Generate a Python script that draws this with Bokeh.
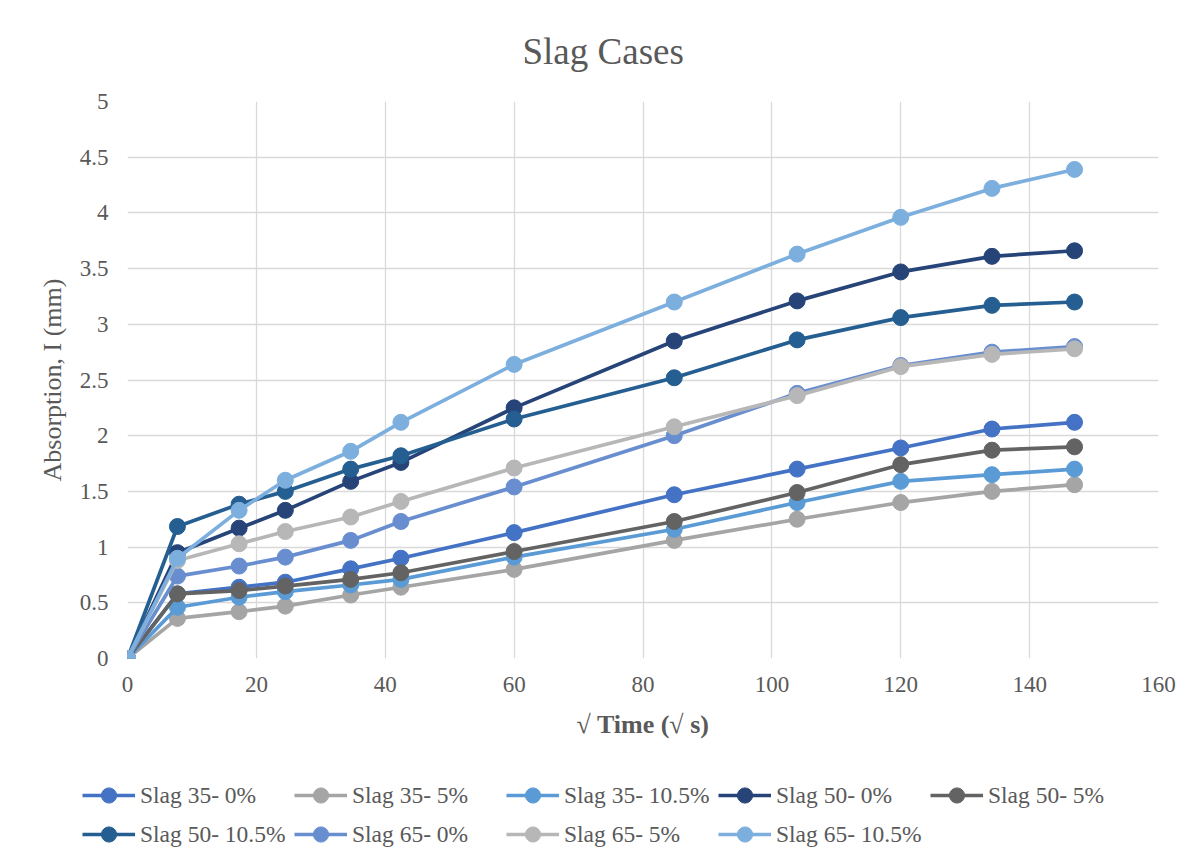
from bokeh.plotting import figure
from bokeh.layouts import column
from bokeh.models import Legend, LegendItem, FixedTicker, Range1d, Title
from bokeh.embed import file_html
from bokeh.resources import INLINE

# sqrt(time) values (sqrt s)
x_vals = [0, 7.75, 17.32, 24.49, 34.64, 42.43, 60.0, 84.85, 103.92, 120.0, 134.16, 146.97]

series_names = ["Slag 35- 0%", "Slag 35- 5%", "Slag 35- 10.5%",
                "Slag 50- 0%", "Slag 50- 5%", "Slag 50- 10.5%",
                "Slag 65- 0%", "Slag 65- 5%", "Slag 65- 10.5%"]

slag35_0 = [0, 0.58, 0.64, 0.685, 0.805, 0.90, 1.13, 1.47, 1.70, 1.89, 2.06, 2.12]
slag35_5 = [0, 0.36, 0.42, 0.47, 0.57, 0.64, 0.80, 1.06, 1.25, 1.40, 1.50, 1.56]
slag35_105 = [0, 0.46, 0.55, 0.60, 0.66, 0.71, 0.91, 1.16, 1.40, 1.59, 1.65, 1.70]
slag50_0 = [0, 0.95, 1.17, 1.33, 1.59, 1.76, 2.25, 2.85, 3.21, 3.47, 3.61, 3.66]
slag50_5 = [0, 0.58, 0.61, 0.65, 0.71, 0.77, 0.96, 1.23, 1.49, 1.74, 1.87, 1.90]
slag50_105 = [0, 1.185, 1.385, 1.50, 1.70, 1.82, 2.15, 2.52, 2.86, 3.06, 3.17, 3.20]
slag65_0 = [0, 0.74, 0.83, 0.91, 1.06, 1.23, 1.54, 2.00, 2.38, 2.63, 2.75, 2.80]
slag65_5 = [0, 0.88, 1.03, 1.14, 1.27, 1.41, 1.71, 2.08, 2.36, 2.62, 2.73, 2.78]
slag65_105 = [0, 0.90, 1.33, 1.60, 1.86, 2.12, 2.64, 3.20, 3.63, 3.96, 4.22, 4.39]

all_series = [slag35_0, slag35_5, slag35_105, slag50_0, slag50_5, slag50_105,
              slag65_0, slag65_5, slag65_105]

colors = ["#4472C4", "#A5A5A5", "#5B9BD5", "#264478", "#636363", "#255E91",
          "#698ED0", "#B7B7B7", "#7CAFDD"]

x_ticks = [0, 20, 40, 60, 80, 100, 120, 140, 160]
y_ticks = [0, 0.5, 1, 1.5, 2, 2.5, 3, 3.5, 4, 4.5, 5]

FONT = "Liberation Serif"
TXT = "#595959"

W = 1195
p = figure(width=W, height=770, output_backend="svg", toolbar_location=None,
           x_range=Range1d(0, 160), y_range=Range1d(0, 5),
           min_border_left=127, min_border_right=W - 1158, min_border_top=101,
           min_border_bottom=112)

p.title = Title(text="Slag Cases", text_font=FONT, text_font_size="37px",
                text_font_style="normal", text_color=TXT, align="left",
                vertical_align="top", offset=395, standoff=56)

p.outline_line_color = None
for ax in (p.xaxis[0], p.yaxis[0]):
    ax.axis_line_color = None
    ax.major_tick_line_color = None
    ax.minor_tick_line_color = None
    ax.major_label_text_font = FONT
    ax.major_label_text_font_size = "23px"
    ax.major_label_text_color = TXT
    ax.axis_label_text_font = FONT
    ax.axis_label_text_color = TXT

p.xaxis.ticker = FixedTicker(ticks=x_ticks)
p.yaxis.ticker = FixedTicker(ticks=y_ticks)
p.yaxis.major_label_overrides = {0.5: "0.5", 1: "1", 1.5: "1.5", 2: "2", 2.5: "2.5",
                                 3: "3", 3.5: "3.5", 4: "4", 4.5: "4.5", 5: "5", 0: "0"}
p.xaxis.axis_label = "√ Time (√ s)"
p.xaxis.axis_label_text_font_style = "bold"
p.xaxis.axis_label_text_font_size = "26px"
p.xaxis.major_label_standoff = 12
p.xaxis.axis_label_standoff = 15
p.yaxis.axis_label = "Absorption, I (mm)"
p.yaxis.axis_label_text_font_style = "normal"
p.yaxis.axis_label_text_font_size = "26px"
p.yaxis.major_label_standoff = 13
p.yaxis.axis_label_standoff = 10

p.xgrid.grid_line_color = "#D9D9D9"
p.ygrid.grid_line_color = "#D9D9D9"
p.xgrid.grid_line_width = 1.3
p.ygrid.grid_line_width = 1.3

for name, ys, c in zip(series_names, all_series, colors):
    p.line(x_vals, ys, line_color=c, line_width=3.7)
    p.scatter(x_vals, ys, marker="circle", size=16, fill_color=c, line_color=c)

# legend strip: a separate full-width plot (ranges look away from the data,
# only its legend is visible)
LH = 87
lg = figure(width=W, height=LH, output_backend="svg", toolbar_location=None,
            x_range=Range1d(1000, 1001), y_range=Range1d(1000, 1001),
            x_axis_location=None, y_axis_location=None,
            min_border_left=0, min_border_right=0, min_border_top=0,
            min_border_bottom=0)
lg.frame_align = False
lg.outline_line_color = None
lg.xgrid.visible = False
lg.ygrid.visible = False

items = []
for name, ys, c in zip(series_names, all_series, colors):
    r1 = lg.line(x_vals, ys, line_color=c, line_width=3.7)
    r2 = lg.scatter(x_vals, ys, marker="circle", size=14, fill_color=c, line_color=c)
    items.append(LegendItem(label=name, renderers=[r1, r2]))

common = dict(orientation="horizontal", glyph_width=53, glyph_height=38,
              label_standoff=5, label_width=154, spacing=0, padding=0, margin=0,
              label_text_font=FONT, label_text_font_size="23.5px",
              label_text_color=TXT, border_line_color=None,
              background_fill_alpha=0)
leg1 = Legend(items=items[:5], location=(82, LH - 6 - 38), **common)
leg2 = Legend(items=items[5:], location=(82, LH - 45 - 38), **common)
lg.add_layout(leg1, "center")
lg.add_layout(leg2, "center")

layout = column(p, lg, spacing=0)
open("out.html", "w").write(file_html(layout, INLINE))
